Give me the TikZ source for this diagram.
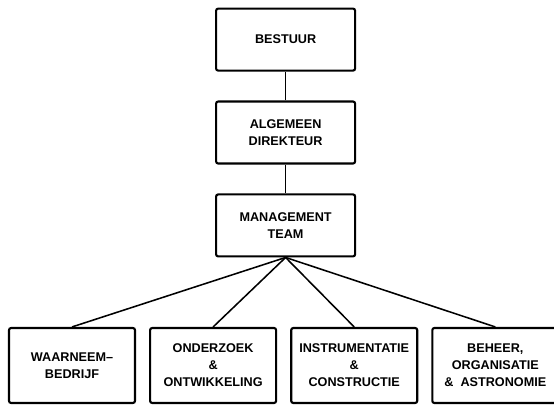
\documentclass[tikz,border=0pt]{standalone}
\usepackage{fontspec}
\setmainfont{Liberation Sans}
\usetikzlibrary{positioning}

\begin{document}
\begin{tikzpicture} [
	text centered,
	node distance=0.72cm,
	font=\fontsize{9}{12}\selectfont\bfseries,
	nboard/.style={
		rectangle,rounded corners=1.5pt,draw=black,line width=1.5pt,
		minimum width=3.475cm,minimum height=1.55cm,align=center
	},
	ndept/.style={
		rectangle,rounded corners=1.5pt,draw=black,line width=1.5pt,
		minimum width=3.15cm,minimum height=1.875cm,align=center
	},
	nlink/.style={-,line width=1.1pt}
]
\useasboundingbox (0,0) rectangle (13.85,10.15);
\node [nboard]	(bestuur) at (7.14,9.16)		{BESTUUR};
\node [nboard]	(direkteur)[below=of bestuur]	{ALGEMEEN\\DIREKTEUR}
	edge [nlink]	(bestuur);
\node [nboard]	(management)[below=of direkteur]	{MANAGEMENT\\TEAM}
	edge [nlink]	(direkteur);
\node [ndept]	(waarneem) at (1.8,1.0125)		{WAARNEEM--\\BEDRIJF};
\node [ndept]	(onderzoek)[right=0.325cm of waarneem]	{ONDERZOEK\\\&\\ONTWIKKELING};
\node [ndept]	(instrument)[right=0.325cm of onderzoek]	{INSTRUMENTATIE\\\&\\CONSTRUCTIE};
\node [ndept]	(beheer)[right=0.325cm of instrument]	{BEHEER,\\ORGANISATIE\\\&\ \ ASTRONOMIE};
\foreach \dept in {waarneem,onderzoek,instrument,beheer}
	\draw [nlink] (management.south) -- (\dept.north);
\end{tikzpicture}
\end{document}
